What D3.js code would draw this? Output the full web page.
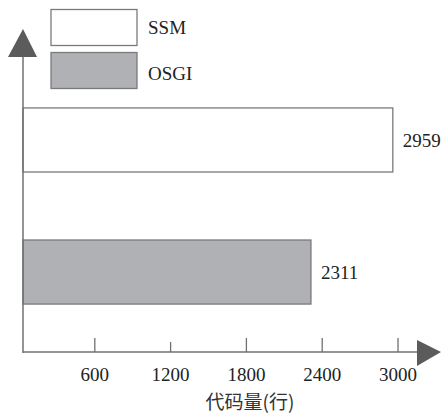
<!DOCTYPE html>
<html><head><meta charset="utf-8">
<script src="https://cdn.jsdelivr.net/npm/d3@7"></script>
<style>body{margin:0;background:#fff}svg{display:block}</style>
</head><body>
<svg id="c" width="441" height="416"></svg>
<script>
const categories = ["SSM", "OSGI"];
const values = [2959, 2311];
const fills = ["#ffffff", "#b0b1b5"];
const tickValues = [600, 1200, 1800, 2400, 3000];
const xTitle = "代码量(行)";

const svg = d3.select("#c");
const serif = "'Liberation Serif','Times New Roman',serif";
const axisCol = "#707070";
const fs = 19;
const x0 = 23, yAxis = 352;
const x = d3.scaleLinear().domain([0, 3000]).range([19, 398]);
const y = d3.scaleBand().domain(categories).range([74, 338]).paddingInner(0.515).paddingOuter(0.257);

// bars
svg.selectAll("rect.bar").data(categories).join("rect")
  .attr("class", "bar")
  .attr("x", x0).attr("y", d => y(d))
  .attr("width", (d, i) => x(values[i]) - x0)
  .attr("height", y.bandwidth())
  .attr("fill", (d, i) => fills[i])
  .attr("stroke", "#7a7a7a").attr("stroke-width", 1.3);

// value labels
svg.selectAll("text.val").data(categories).join("text")
  .attr("class", "val")
  .attr("x", (d, i) => x(values[i]) + 10)
  .attr("y", d => y(d) + y.bandwidth() / 2 + 7)
  .attr("font-family", serif).attr("font-size", fs).attr("fill", "#222")
  .text((d, i) => values[i]);

// axes lines
svg.append("line").attr("x1", x0).attr("x2", x0).attr("y1", 55).attr("y2", yAxis + 1)
  .attr("stroke", axisCol).attr("stroke-width", 1.5);
svg.append("line").attr("x1", x0).attr("x2", 420).attr("y1", yAxis).attr("y2", yAxis)
  .attr("stroke", axisCol).attr("stroke-width", 1.5);
// arrows
svg.append("path").attr("d", `M${x0},29 L${x0 + 14},57 L${x0 - 15},57 Z`).attr("fill", "#5b5b5b");
svg.append("path").attr("d", `M441,${yAxis} L417,${yAxis - 12} L417,${yAxis + 14} Z`).attr("fill", "#5b5b5b");

// ticks
const tickLen = [14, 10, 14, 14, 14];
svg.selectAll("line.tick").data(tickValues).join("line")
  .attr("class", "tick")
  .attr("x1", d => x(d)).attr("x2", d => x(d))
  .attr("y1", yAxis).attr("y2", (d, i) => yAxis - tickLen[i])
  .attr("stroke", axisCol).attr("stroke-width", 1.3);
svg.selectAll("text.tl").data(tickValues).join("text")
  .attr("class", "tl")
  .attr("x", d => x(d)).attr("y", 381)
  .attr("text-anchor", "middle")
  .attr("font-family", serif).attr("font-size", fs).attr("fill", "#222")
  .text(d => d);

// x title
svg.append("text").attr("x", 250).attr("y", 409).attr("text-anchor", "middle")
  .attr("font-family", "'Noto Sans CJK SC',sans-serif").attr("font-size", 19).attr("fill", "#333")
  .text(xTitle);

// legend
const lg = svg.append("g");
categories.forEach((c, i) => {
  lg.append("rect").attr("x", 51).attr("y", 9.5 + i * 43).attr("width", 86).attr("height", 36)
    .attr("fill", fills[i]).attr("stroke", "#7a7a7a").attr("stroke-width", 1.3);
  lg.append("text").attr("x", 148).attr("y", 34 + i * 46)
    .attr("font-family", serif).attr("font-size", fs).attr("fill", "#222").text(c);
});
</script>
</body></html>
